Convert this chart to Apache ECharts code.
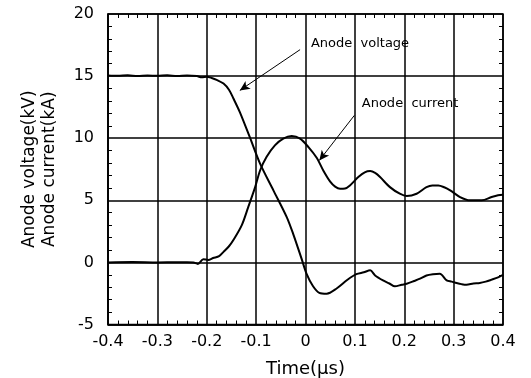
<!DOCTYPE html>
<html><head><meta charset="utf-8">
<script src="https://cdn.jsdelivr.net/npm/echarts@6/dist/echarts.min.js"></script>
<style>html,body{margin:0;padding:0;background:#fff}#c{width:531px;height:378px}</style>
</head><body><div id="c"></div>
<script>
var voltT = [-0.4,-0.38,-0.36,-0.34,-0.32,-0.3,-0.28,-0.26,-0.24,-0.22,-0.21,-0.2,-0.19,-0.18,-0.166,-0.155,-0.146,-0.133,-0.113,-0.092,-0.065,-0.038,-0.025,-0.008,0.002,0.015,0.028,0.043,0.063,0.085,0.103,0.118,0.131,0.141,0.157,0.17,0.181,0.195,0.205,0.22,0.232,0.245,0.258,0.272,0.286,0.296,0.306,0.316,0.326,0.34,0.353,0.365,0.377,0.39,0.4];
var voltV = [15.05,15.02,15.06,15.0,15.05,15.02,15.06,15.01,15.05,15.0,14.9,14.95,14.85,14.7,14.4,13.9,13.2,12.1,10.1,7.95,5.8,3.65,2.3,0.3,-0.9,-1.9,-2.45,-2.52,-2.1,-1.4,-0.95,-0.8,-0.64,-1.05,-1.45,-1.7,-1.93,-1.8,-1.72,-1.5,-1.31,-1.05,-0.95,-0.91,-1.45,-1.55,-1.66,-1.75,-1.8,-1.7,-1.66,-1.55,-1.39,-1.2,-1.0];
var currT = [-0.4,-0.35,-0.3,-0.26,-0.24,-0.227,-0.218,-0.207,-0.197,-0.187,-0.175,-0.166,-0.155,-0.146,-0.129,-0.116,-0.102,-0.092,-0.079,-0.062,-0.045,-0.028,-0.011,0.006,0.023,0.036,0.05,0.06,0.07,0.08,0.09,0.107,0.12,0.131,0.141,0.151,0.171,0.191,0.205,0.225,0.245,0.257,0.269,0.281,0.293,0.313,0.333,0.357,0.377,0.39,0.4];
var currV = [0,0.03,0,0.02,0.02,0,-0.12,0.25,0.2,0.35,0.5,0.85,1.3,1.8,3.0,4.45,6.06,7.4,8.48,9.42,9.96,10.17,9.96,9.28,8.4,7.4,6.5,6.1,5.93,5.95,6.2,6.87,7.25,7.35,7.2,6.87,6.06,5.53,5.34,5.53,6.06,6.2,6.2,6.05,5.8,5.26,5.0,5.0,5.26,5.4,5.45];
var arrowVolt = [[-0.011,17.13],[-0.133,13.85]];
var arrowCurr = [[0.099,11.84],[0.028,8.21]];
var labelVolt = {text:'Anode  voltage', at:[0.011,17.63]};
var labelCurr = {text:'Anode  current', at:[0.114,12.8]};

function pairs(t,v){return t.map(function(x,i){return [x,v[i]];});}
var font = 'DejaVu Sans';
var chart = echarts.init(document.getElementById('c'));
var minor = {show:true, splitNumber:5, length:4, lineStyle:{color:'#000',width:1}};
var tick = {show:false, inside:true};
chart.setOption({
  animation:false,
  grid:{left:108,right:28,top:14,bottom:53.5,show:true,borderColor:'#000',borderWidth:1.5,
        containLabel:false,outerBoundsMode:'none'},
  xAxis:[{
    type:'value',min:-0.4,max:0.4,interval:0.1,position:'bottom',
    name:'Time(\u03bcs)',nameLocation:'middle',nameGap:36,
    nameTextStyle:{fontFamily:font,fontSize:18,color:'#000'},
    axisLine:{onZero:false,lineStyle:{color:'#000',width:1.5}},
    axisTick:tick,minorTick:minor,
    axisLabel:{fontFamily:font,fontSize:16,color:'#000',margin:9,
      formatter:function(v){var r=Math.round(v*10)/10;return r===0?'0':r.toFixed(1);}},
    splitLine:{show:true,lineStyle:{color:'#000',width:1.5}}
  },{
    type:'value',min:-0.4,max:0.4,interval:0.1,position:'top',
    axisLine:{show:false,onZero:false},axisTick:tick,axisLabel:{show:false},splitLine:{show:false},
    minorTick:minor
  }],
  yAxis:[{
    type:'value',min:-5,max:20,interval:5,position:'left',
    name:'Anode voltage(kV)\nAnode current(kA)',nameLocation:'middle',nameRotate:90,nameGap:48,
    nameTextStyle:{fontFamily:font,fontSize:17,color:'#000',lineHeight:20},
    axisLine:{onZero:false,lineStyle:{color:'#000',width:1.5}},
    axisTick:tick,minorTick:minor,
    axisLabel:{fontFamily:font,fontSize:16,color:'#000',margin:14},
    splitLine:{show:true,lineStyle:{color:'#000',width:1.5}}
  },{
    type:'value',min:-5,max:20,interval:5,position:'right',
    axisLine:{show:false,onZero:false},axisTick:tick,axisLabel:{show:false},splitLine:{show:false},
    minorTick:minor
  }],
  series:[{
    type:'line',data:pairs(voltT,voltV),showSymbol:false,smooth:0.3,
    lineStyle:{color:'#000',width:2},
    markLine:{silent:true,symbol:['none','arrow'],symbolSize:[7,10],label:{show:false},
      lineStyle:{color:'#000',width:1,type:'solid'},
      data:[[{coord:arrowVolt[0]},{coord:arrowVolt[1]}],[{coord:arrowCurr[0]},{coord:arrowCurr[1]}]]},
    markPoint:{silent:true,symbol:'circle',symbolSize:0,
      label:{show:true,position:'right',distance:0,fontFamily:font,fontSize:13,color:'#000',
        formatter:function(p){return p.name;}},
      data:[{name:labelVolt.text,coord:labelVolt.at},{name:labelCurr.text,coord:labelCurr.at}]}
  },{
    type:'line',data:pairs(currT,currV),showSymbol:false,smooth:0.3,
    lineStyle:{color:'#000',width:2}
  }]
});
</script></body></html>
